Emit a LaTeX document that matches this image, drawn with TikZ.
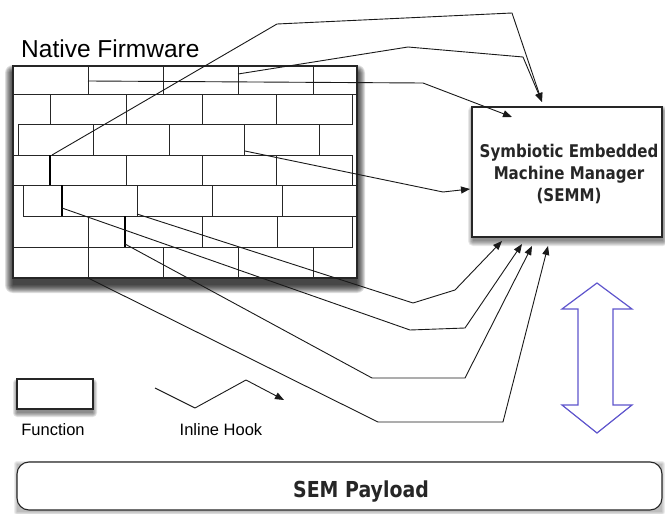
\documentclass[tikz,border=0pt]{standalone}
\usepackage{fontspec}
\setmainfont{Liberation Sans}
\newfontfamily\semf{DejaVu Sans}[FakeStretch=0.86]
\usetikzlibrary{arrows.meta}
\definecolor{arrowblue}{RGB}{95,85,205}
\newcommand\softshadow[8]{%
  \foreach \e in {0,1,...,#7}
    \fill[black,opacity=#8,rounded corners=\e pt] (#1-\e+#5,#2-\e+#6) rectangle (#3+\e+#5,#4+\e+#6);}
\begin{document}
\begin{tikzpicture}[x=1pt,y=-1pt,
  brick/.style={draw=black!85,line width=0.75pt},
  hookedge/.style={draw=black,line width=1.8pt},
  conn/.style={draw=black!90,line width=0.9pt,line join=round},
  tipped/.style={conn,-{Triangle[length=9pt,width=7pt]}},
  box/.style={draw=black!85,fill=white,line width=1.1pt,inner sep=0pt,outer sep=0pt,anchor=north west}
]
\useasboundingbox (0,0) rectangle (665,514);
\fill[white] (0,0) rectangle (665,514);

% title
\node[anchor=base west,inner sep=0pt] (title) at (21,57) {\fontsize{24.5}{28}\selectfont Native Firmware};

% firmware shadow and frame
\softshadow{13}{66}{357}{278}{0}{7}{8}{0.13}
\node[box,line width=1.3pt,minimum width=344pt,minimum height=212pt] (fw) at (13,66) {};

% bricks
\foreach \a/\b in {13/88,88/163,163/238,238/313,313/357} \draw[brick] (\a,66) rectangle (\b,94);
\foreach \a/\b in {50/126,126/202,202/276,276/352} \draw[brick] (\a,94) rectangle (\b,124);
\foreach \a/\b in {18/93,93/169,169/244,244/319} \draw[brick] (\a,124) rectangle (\b,155);
\foreach \a/\b in {13/50,50/126,126/202,202/276,276/352} \draw[brick] (\a,155) rectangle (\b,185);
\foreach \a/\b in {23/62,62/137,137/212,212/282,282/357} \draw[brick] (\a,185) rectangle (\b,216);
\foreach \a/\b in {88/125,125/202,202/277,277/352} \draw[brick] (\a,216) rectangle (\b,247);
\foreach \a/\b in {13/88,88/163,163/238,238/313} \draw[brick] (\a,247) rectangle (\b,278);
\draw[hookedge] (50,155) -- (50,185);
\draw[hookedge] (62,185) -- (62,216);
\draw[hookedge] (125,216) -- (125,247);
\draw[black!85,line width=1.3pt] (fw.north west) rectangle (fw.south east);

% SEMM
\softshadow{472}{107}{662}{237}{1}{4}{5}{0.09}
\node[box,minimum width=190pt,minimum height=130pt] (semm) at (472,107) {};
\node[align=center,inner sep=0pt,text=black!85,font={\semf\bfseries\fontsize{17.5}{22}\selectfont}] (semmtext) at (569,174)
  {Symbiotic Embedded\\Machine Manager\\(SEMM)};

% hook points and tips
\coordinate (hE) at (52,155);
\coordinate (hF) at (238,74);
\coordinate (hG) at (88,81);
\coordinate (hH) at (245,151);
\coordinate (hA) at (137,214);
\coordinate (hB) at (62,208);
\coordinate (hC) at (125,244);
\coordinate (hD) at (88,278);
\coordinate (tEF) at (542,102);
\coordinate (tG) at (512,117);
\coordinate (tH) at (470,189);
\coordinate (tA) at (502,241);
\coordinate (tB) at (522,244);
\coordinate (tC) at (532,246);
\coordinate (tD) at (548,246);

\draw[tipped] (hE) -- (277,24) -- (512,13) -- (tEF);
\draw[tipped] (hF) -- (408,47) -- (523,57) -- (tEF);
\draw[tipped] (hG) -- (423,83) -- (tG);
\draw[tipped] (hH) -- (443,192) -- (tH);
\draw[tipped] (hA) -- (413,303) -- (455,290) -- (tA);
\draw[tipped] (hB) -- (410,330) -- (465,328) -- (tB);
\draw[tipped] (hC) -- (372,378) -- (465,378) -- (tC);
\draw[tipped] (hD) -- (378,422) -- (503,422) -- (tD);

% double arrow
\draw[arrowblue,line width=1.2pt,fill=white,line join=miter]
  (597,283) -- (632,309) -- (613,309) -- (613,405) -- (632,405) -- (597,433)
  -- (562,405) -- (578,405) -- (578,309) -- (562,309) -- cycle;

% legend
\softshadow{17}{379}{93}{409}{0}{4}{4}{0.11}
\node[box,minimum width=76pt,minimum height=30pt] (func) at (17,379) {};
\node[inner sep=0pt] (funclabel) at (53,430) {\fontsize{16.5}{18}\selectfont Function};
\coordinate (hk0) at (155,388);
\coordinate (hk1) at (284,400);
\draw[tipped] (hk0) -- (195,408) -- (246,380) -- (hk1);
\node[inner sep=0pt] (hooklabel) at (221,430) {\fontsize{16.5}{18}\selectfont Inline Hook};

% payload
\softshadow{17}{462}{662}{510}{0}{2}{3}{0.07}
\node[box,rounded corners=12pt,minimum width=645pt,minimum height=48pt] (payload) at (17,462) {};
\node[inner sep=0pt,anchor=base,text=black!85] (payloadtext) at (361,497) {\semf\bfseries\fontsize{22}{24}\selectfont SEM Payload};
\end{tikzpicture}
\end{document}
